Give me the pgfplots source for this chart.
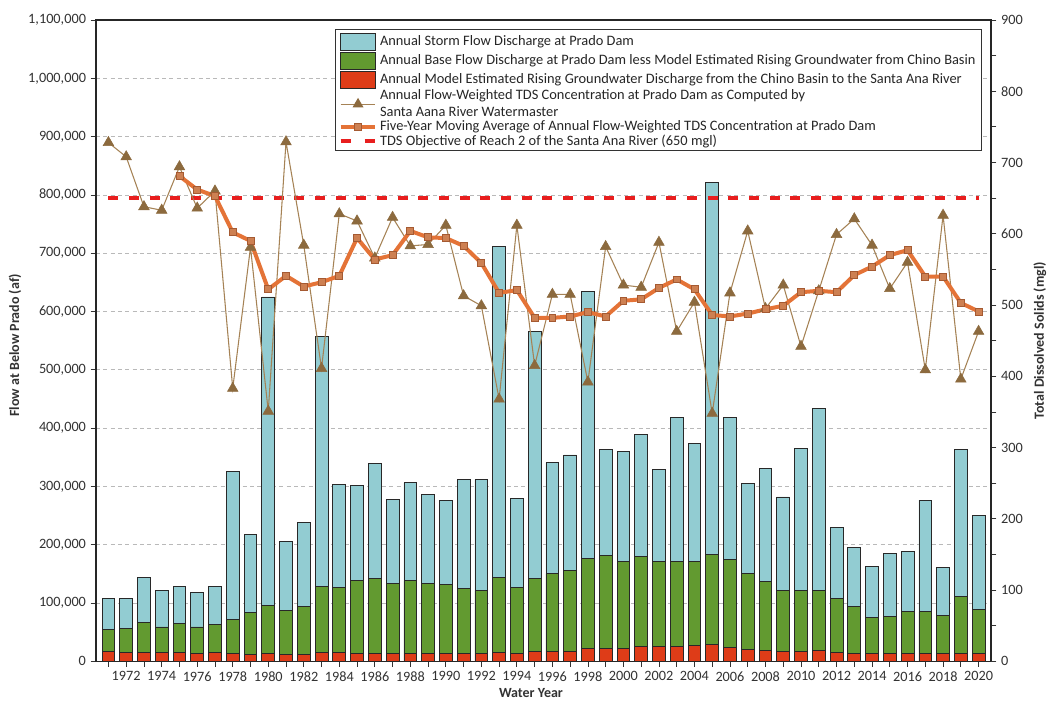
\documentclass[border=0pt]{standalone}
\usepackage{fontspec}
\setmainfont{Carlito}
\usepackage{pgfplots}
\pgfplotsset{compat=1.18}
\usepackage{pgfplotstable}
\definecolor{stormc}{RGB}{146,204,210}
\definecolor{basec}{RGB}{98,154,48}
\definecolor{redc}{RGB}{222,60,24}
\definecolor{barline}{RGB}{40,40,40}
\definecolor{tric}{RGB}{140,106,62}
\definecolor{trilinec}{RGB}{165,130,85}
\definecolor{mavgc}{RGB}{228,115,55}
\definecolor{mavgmark}{RGB}{205,128,82}
\definecolor{mavgedge}{RGB}{165,90,50}
\definecolor{objc}{RGB}{232,30,30}
\definecolor{labc}{RGB}{50,50,50}

\pgfplotstableread{
year red base storm
1971 16400 38600 52500
1972 15000 41000 51500
1973 16000 50000 78000
1974 15000 44000 63000
1975 15000 50000 63000
1976 13500 45500 59600
1977 15000 49000 64000
1978 13500 58500 254000
1979 12000 72000 134000
1980 13500 82500 529000
1981 12000 75000 118500
1982 12000 82000 144000
1983 15000 113600 428400
1984 15000 111000 178000
1985 13500 124500 164000
1986 14000 128000 197000
1987 13500 120500 143000
1988 14000 124600 167900
1989 13500 120500 152500
1990 13000 119000 144000
1991 13500 111500 187000
1992 13500 107500 191000
1993 16000 128000 568000
1994 14000 112000 153000
1995 17600 123900 424000
1996 17600 132400 191000
1997 17600 138000 198400
1998 21700 155300 458000
1999 21700 159300 183000
2000 22000 149500 188500
2001 25000 155000 209000
2002 25000 147000 157000
2003 26000 146000 247000
2004 27000 144000 202000
2005 29000 154800 638200
2006 24000 150000 244700
2007 21000 130500 153500
2008 19400 117400 193800
2009 17600 103400 161000
2010 17000 104000 243600
2011 18000 103000 313500
2012 15000 93600 121000
2013 13500 81000 100500
2014 13000 63000 87000
2015 13000 64500 108000
2016 13000 72000 103000
2017 14000 71000 191600
2018 13500 64500 83500
2019 13500 98100 252400
2020 13500 75200 160900
}\flowdata

\pgfplotstableread{
year tds
1971 728
1972 708
1973 638
1974 633
1975 694
1976 636
1977 660
1978 383
1979 581
1980 351
1981 729
1982 584
1983 411
1984 628
1985 618
1986 566
1987 623
1988 583
1989 585
1990 612
1991 513
1992 499
1993 368
1994 612
1995 415
1996 515
1997 515
1998 392
1999 582
2000 528
2001 525
2002 588
2003 463
2004 504
2005 348
2006 517
2007 604
2008 495
2009 528
2010 442
2011 520
2012 599
2013 621
2014 584
2015 523
2016 560
2017 409
2018 626
2019 396
2020 463
}\tdsdata

\pgfplotstableread{
year avg
1975 681
1976 662
1977 653
1978 602
1979 590
1980 522
1981 541
1982 526
1983 532
1984 541
1985 594
1986 564
1987 570
1988 604
1989 595
1990 594
1991 583
1992 559
1993 517
1994 521
1995 482
1996 482
1997 484
1998 490
1999 484
2000 506
2001 508
2002 524
2003 536
2004 522
2005 486
2006 484
2007 488
2008 494
2009 499
2010 518
2011 520
2012 518
2013 542
2014 554
2015 570
2016 577
2017 540
2018 540
2019 503
2020 491
}\avgdata

\begin{document}
\begin{tikzpicture}
\path[use as bounding box] (-72pt,-32pt) rectangle (714pt,496pt);
\begin{axis}[
  scale only axis, width=671.25pt, height=481pt,
  at={(0,0)}, anchor=south west,
  xmin=1970.3, xmax=2020.7, ymin=0, ymax=1100000,
  ybar stacked, bar width=0.72,
  axis line style={black!85, line width=0.9pt},
  xtick={1972,1974,...,2020}, minor xtick={1971,1973,...,2019},
  xtick pos=bottom, ytick pos=left, tick align=outside,
  major tick length=4pt, minor tick length=4pt,
  tick style={black!80, line width=0.6pt},
  scaled y ticks=false, scaled x ticks=false,
  ytick={0,100000,200000,300000,400000,500000,600000,700000,800000,900000,1000000,1100000},
  yticklabels={0,{100,000},{200,000},{300,000},{400,000},{500,000},{600,000},{700,000},{800,000},{900,000},{1,000,000},{1,100,000}},
  /pgf/number format/assume math mode=true,
  xticklabel style={/pgf/number format/1000 sep={}},
  tick label style={font=\fontsize{10.7}{12}\selectfont, text=labc},
  ymajorgrids, grid style={dash pattern=on 3pt off 2.5pt, gray!55, line width=0.5pt},
  xlabel={Water Year},
  xlabel style={at={(axis description cs:0.486,-0.05)}, anchor=center, font=\bfseries\fontsize{10.5}{12}\selectfont, text=labc},
  ylabel={Flow at Below Prado (af)},
  ylabel style={at={(axis description cs:-0.0905,0.493)}, anchor=center, font=\bfseries\fontsize{10.5}{12}\selectfont, text=labc},
]
\addplot[fill=redc, draw=barline, line width=0.6pt] table[x=year, y=red] {\flowdata};
\addplot[fill=basec, draw=barline, line width=0.6pt] table[x=year, y=base] {\flowdata};
\addplot[fill=stormc, draw=barline, line width=0.6pt] table[x=year, y=storm] {\flowdata};
\end{axis}
\begin{axis}[
  scale only axis, width=671.25pt, height=481pt,
  at={(0,0)}, anchor=south west,
  xmin=1970.3, xmax=2020.7, ymin=0, ymax=900,
  axis x line=none, axis y line*=right,
  axis line style={black!85, line width=0.9pt},
  tick align=outside,
  major tick length=4pt, minor tick length=4pt,
  tick style={black!80, line width=0.6pt},
  scaled y ticks=false,
  ytick={0,100,...,900}, minor ytick={50,150,...,850},
  /pgf/number format/assume math mode=true,
  tick label style={font=\fontsize{10.7}{12}\selectfont, text=labc},
  ylabel={Total Dissolved Solids (mgl)},
  ylabel style={at={(axis description cs:1.0547,0.5)}, anchor=center, rotate=0, font=\bfseries\fontsize{10.5}{12}\selectfont, text=labc},
  legend style={at={(axis description cs:0.267,0.986)}, anchor=north west,
    draw=black!80, line width=0.6pt, fill=white,
    font=\fontsize{10.8}{12.5}\selectfont, text=black!85,
    row sep=0.9pt, inner sep=2.5pt,
    nodes={align=left, inner ysep=0.3pt}},
  legend cell align=left,
]
\addlegendimage{legend image code/.code={\draw[fill=stormc, draw=barline, line width=0.5pt] (0pt,-6.4pt) rectangle (26pt,6.4pt);}}
\addlegendentry{Annual Storm Flow Discharge at Prado Dam}
\addlegendimage{legend image code/.code={\draw[fill=basec, draw=barline, line width=0.5pt] (0pt,-6.4pt) rectangle (26pt,6.4pt);}}
\addlegendentry{Annual Base Flow Discharge at Prado Dam less Model Estimated Rising Groundwater from Chino Basin}
\addlegendimage{legend image code/.code={\draw[fill=redc, draw=barline, line width=0.5pt] (0pt,-6.4pt) rectangle (26pt,6.4pt);}}
\addlegendentry{Annual Model Estimated Rising Groundwater Discharge from the Chino Basin to the Santa Ana River}
\addplot[objc, line width=2.6pt, dash pattern=on 7.5pt off 8pt, forget plot] coordinates {(1971,650) (2020,650)};
\addplot[trilinec, line width=0.8pt, mark=triangle*, mark size=4.6pt, mark options={fill=tric, draw=tric, line width=0.4pt},
  legend image code/.code={\draw[trilinec, line width=0.8pt] (0pt,0pt) -- (26pt,0pt); \fill[tric] (13pt,0pt) ++(90:4pt) -- ++(-120:6.9pt) -- ++(0:6.9pt) -- cycle;}] table[x=year, y=tds] {\tdsdata};
\addlegendentry{Annual Flow-Weighted TDS Concentration at Prado Dam as Computed by\\Santa Aana River Watermaster}
\addplot[mavgc, line width=3pt, mark=square*, mark size=2.6pt, mark options={fill=mavgmark, draw=mavgedge, line width=0.6pt},
  legend image code/.code={\draw[mavgc, line width=3pt] (0pt,0pt) -- (26pt,0pt); \draw[fill=mavgmark, draw=mavgedge, line width=0.5pt] (10.5pt,-2.5pt) rectangle (15.5pt,2.5pt);}] table[x=year, y=avg] {\avgdata};
\addlegendentry{Five-Year Moving Average of Annual Flow-Weighted TDS Concentration at Prado Dam}
\addlegendimage{legend image code/.code={\draw[objc, line width=2.6pt] (0pt,0pt) -- (8pt,0pt) (18pt,0pt) -- (26pt,0pt);}}
\addlegendentry{TDS Objective of Reach 2 of the Santa Ana River (650 mgl)}
\end{axis}
\end{tikzpicture}
\end{document}
